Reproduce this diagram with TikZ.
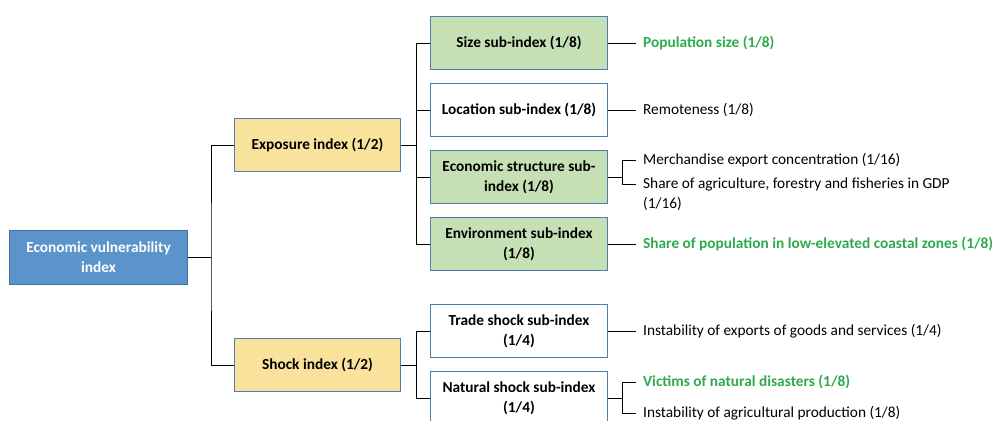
\documentclass[tikz,border=0pt]{standalone}
\usepackage{fontspec}
\setmainfont{Carlito}
\usepackage{tikz}
\usetikzlibrary{calc}

\definecolor{eviblue}{HTML}{5B93CB}
\definecolor{eviline}{HTML}{41719C}
\definecolor{boxline}{HTML}{4F7DAF}
\definecolor{idxyellow}{HTML}{F8E29C}
\definecolor{subgreen}{HTML}{C5E0B4}
\definecolor{hlgreen}{HTML}{2DAA4E}

\begin{document}
\begin{tikzpicture}[x=0.75pt, y=-0.75pt, node distance={50.25pt}, line width=0.75pt,
    every node/.style = {font=\fontsize{11.5}{15}\selectfont},
    main/.style = {draw=eviline, fill=eviblue, text=white, font=\fontsize{11.5}{15}\selectfont\bfseries, align=center, minimum width=133pt, minimum height=40pt},
    idx/.style = {draw=boxline, fill=idxyellow, font=\fontsize{11.5}{15}\selectfont\bfseries, align=center, minimum width=125pt, minimum height=40pt},
    sub/.style = {draw=boxline, fill=white, font=\fontsize{11.5}{15}\selectfont\bfseries, align=center, minimum width=133pt, minimum height=40pt},
    subg/.style = {sub, fill=subgreen},
    item/.style = {anchor=west, align=left, inner xsep=5pt, inner ysep=1pt},
    itemg/.style = {item, text=hlgreen, font=\fontsize{11.5}{15}\selectfont\bfseries}]
    \useasboundingbox (0,0) rectangle (992,421);
    \clip (0,0) rectangle (992,421);

    \node[main] (evi) at (98.5,257.5) {Economic vulnerability\\index};
    \node[idx] (expo) at (317.5,145) {Exposure index (1/2)};
    \node[idx] (shock) at (317.5,365) {Shock index (1/2)};

    \node[subg] (size) at (519,43) {Size sub-index (1/8)};
    \node[sub] (loc) [below of =size] {Location sub-index (1/8)};
    \node[subg] (econ) [below of =loc] {Economic structure sub-\\index (1/8)};
    \node[subg] (env) [below of =econ] {Environment sub-index\\(1/8)};
    \node[sub] (trade) at (519,331) {Trade shock sub-index\\(1/4)};
    \node[sub] (natural) [below of =trade] {Natural shock sub-index\\(1/4)};

    \node[itemg] (popsize) at (636,43) {Population size (1/8)};
    \node[item] (remote) at (636,110) {Remoteness (1/8)};
    \node[item] (merch) at (636,160) {Merchandise export concentration (1/16)};
    \node[item] (agri) at (636,194) {Share of agriculture, forestry and fisheries in GDP\\(1/16)};
    \node[itemg] (envshare) at (636,244) {Share of population in low-elevated coastal zones (1/8)};
    \node[item] (tradeinst) at (636,331) {Instability of exports of goods and services (1/4)};
    \node[itemg] (victims) at (636,382) {Victims of natural disasters (1/8)};
    \node[item] (agriinst) at (636,413) {Instability of agricultural production (1/8)};

    % left tree
    \coordinate (b0) at (211,257.5);
    \draw (evi.east) -- (b0);
    \draw (expo.west) -| (b0) |- (shock.west);

    % exposure branch
    \draw (expo.east) -- ++(15,0) coordinate (b1);
    \draw (size.west) -| (b1) |- (env.west);
    \draw (b1) |- (loc.west);
    \draw (b1) |- (econ.west);

    % shock branch
    \draw (shock.east) -- ++(15,0) coordinate (b2);
    \draw (trade.west) -| (b2) |- (natural.west);

    % indicators
    \draw (size.east) -- (popsize.west);
    \draw (loc.east) -- (remote.west);
    \draw (econ.east) -- ++(14,0) coordinate (b3);
    \draw (merch.west) -| (b3) |- ($(agri.north west)!0.25!(agri.south west)$);
    \draw (env.east) -- (envshare.west);
    \draw (trade.east) -- (tradeinst.west);
    \draw (natural.east) -- ++(14,0) coordinate (b4);
    \draw (victims.west) -| (b4) |- (agriinst.west);
\end{tikzpicture}
\end{document}
